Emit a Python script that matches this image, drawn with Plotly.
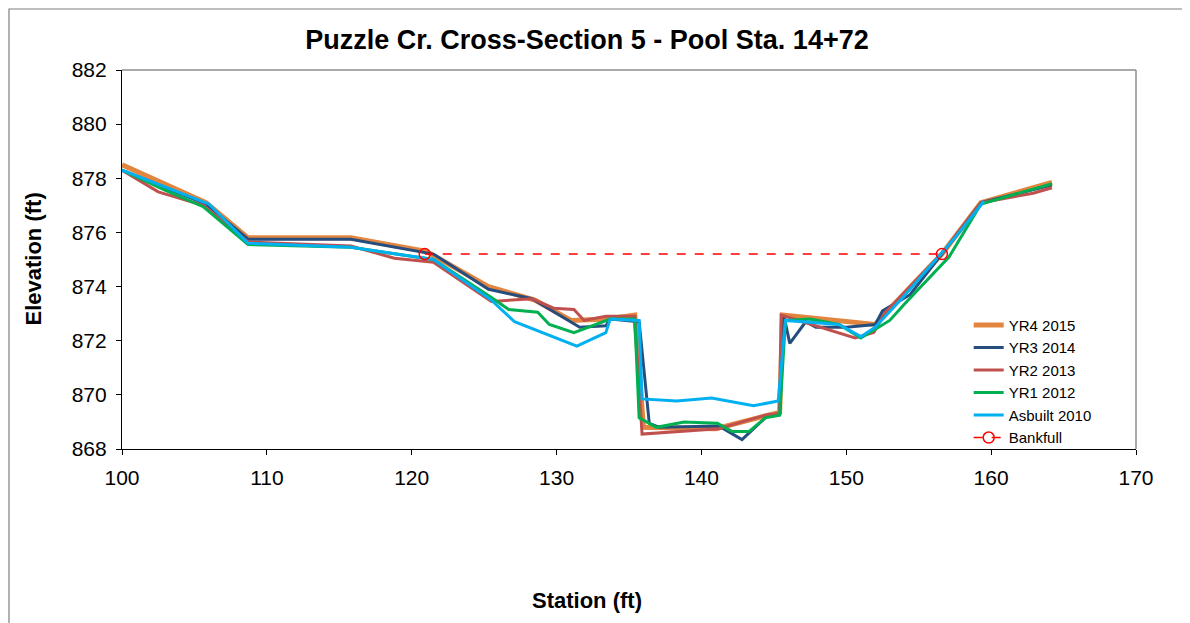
import plotly.graph_objects as go

# Survey data (station ft, elevation ft)
yr4_x = [100, 105.8, 108.7, 115.8, 121.0, 125.3, 128.5, 131.0, 133.5, 135.4, 136.0,
         141.0, 144.6, 145.4, 145.6, 152.0, 154.8, 156.6, 159.3, 164.2]
yr4_y = [878.5, 877.1, 875.8, 875.8, 875.3, 874.0, 873.5, 872.75, 872.8, 872.95, 868.8,
         868.75, 869.25, 869.35, 872.95, 872.6, 874.2, 875.2, 877.1, 877.85]

yr3_x = [100, 105.8, 108.7, 115.8, 121.5, 125.3, 128.3, 131.6, 133.4, 133.7, 135.7,
         136.4, 137.1, 141.2, 142.8, 144.6, 145.4, 145.7, 146.1, 147.2, 147.9, 150.0,
         152.0, 152.5, 154.4, 156.6, 159.3, 164.2]
yr3_y = [878.3, 877.05, 875.75, 875.75, 875.2, 873.9, 873.55, 872.5, 872.55, 872.8, 872.7,
         868.95, 868.8, 868.85, 868.35, 869.25, 869.3, 872.9, 871.9, 872.7, 872.5, 872.5,
         872.6, 873.1, 873.7, 875.2, 877.1, 877.75]

yr2_x = [100, 102.5, 105.6, 108.7, 115.8, 118.8, 121.5, 125.5, 128.3, 129.8, 131.2,
         131.9, 133.4, 135.4, 135.9, 141.2, 144.4, 145.4, 145.5, 147.9, 150.6, 151.9,
         152.7, 156.9, 159.3, 162.9, 164.2]
yr2_y = [878.3, 877.5, 877.0, 875.65, 875.5, 875.05, 874.9, 873.45, 873.55, 873.2, 873.15,
         872.75, 872.9, 872.9, 868.55, 868.75, 869.25, 869.3, 872.95, 872.55, 872.1, 872.3,
         873.05, 875.4, 877.1, 877.45, 877.65]

yr1_x = [100, 103.0, 105.6, 108.7, 115.8, 121.5, 125.5, 126.7, 128.7, 129.5, 131.2,
         133.7, 135.4, 135.7, 136.9, 138.8, 141.1, 142.1, 143.3, 144.4, 145.4, 145.8,
         147.5, 149.5, 151.0, 153.0, 154.1, 157.1, 159.3, 164.2]
yr1_y = [878.3, 877.55, 876.95, 875.55, 875.45, 875.0, 873.6, 873.15, 873.05, 872.6, 872.3,
         872.8, 872.8, 869.15, 868.8, 869.0, 868.95, 868.65, 868.65, 869.15, 869.25, 872.75,
         872.8, 872.6, 872.1, 872.75, 873.4, 875.1, 877.05, 877.8]

asb_x = [100, 106.0, 108.7, 115.8, 121.5, 125.5, 127.1, 131.4, 133.4, 133.7, 135.7,
         135.9, 138.3, 140.7, 143.6, 145.3, 145.8, 149.5, 151.0, 152.0, 153.9, 157.5, 159.5]
asb_y = [878.3, 877.05, 875.6, 875.45, 875.0, 873.5, 872.7, 871.8, 872.3, 872.8, 872.75,
         869.85, 869.77, 869.88, 869.6, 869.77, 872.75, 872.6, 872.15, 872.5, 873.6, 875.8, 877.15]

bkf_x = [120.9, 156.6]
bkf_y = [875.2, 875.2]

series = [
    ('YR4 2015', yr4_x, yr4_y, '#E2863F', 5),
    ('YR3 2014', yr3_x, yr3_y, '#254E7E', 3),
    ('YR2 2013', yr2_x, yr2_y, '#C0504D', 3),
    ('YR1 2012', yr1_x, yr1_y, '#00B050', 3),
    ('Asbuilt 2010', asb_x, asb_y, '#00B0F0', 3),
]

font = 'Arial, Liberation Sans, sans-serif'
W, H = 1182, 615          # page body adds 8px margin
L, R, T, B = 114, 54, 62, 174
pw, ph = W - L - R, H - T - B

fig = go.Figure()
for name, xs, ys, color, width in series:
    fig.add_trace(go.Scatter(x=xs, y=ys, name=name, mode='lines',
                             line=dict(color=color, width=width)))

fig.add_trace(go.Scatter(x=bkf_x, y=bkf_y, name='Bankfull', mode='lines+markers',
                         line=dict(color='#FF0000', width=1.5, dash='dash'),
                         marker=dict(symbol='circle-open', size=11, color='#FF0000',
                                     line=dict(width=1.5))))

fig.update_layout(
    width=W, height=H,
    margin=dict(l=L, r=R, t=T, b=B),
    paper_bgcolor='white', plot_bgcolor='white',
    font=dict(family=font, color='black'),
    title=dict(text='<b>Puzzle Cr. Cross-Section 5 - Pool Sta. 14+72</b>',
               font=dict(size=27), x=579 / W, xref='container', xanchor='center',
               y=1 - 32 / H, yanchor='middle'),
    showlegend=True,
    legend=dict(x=0.835, y=0.370, xanchor='left', yanchor='top',
                font=dict(size=15), bgcolor='rgba(0,0,0,0)', tracegroupgap=0),
)

fig.update_xaxes(range=[100, 170], dtick=10, showgrid=False, zeroline=False,
                 showline=True, linecolor='black', linewidth=1.2,
                 ticks='outside', ticklen=5, tickcolor='black',
                 tickfont=dict(size=21), ticklabelstandoff=5)
fig.update_yaxes(range=[868, 882], dtick=2, showgrid=False, zeroline=False,
                 showline=True, linecolor='black', linewidth=1.2,
                 ticks='outside', ticklen=5, tickcolor='black',
                 tickfont=dict(size=21), ticklabelstandoff=5)

# plot area border on top and right, outer chart frame
fig.add_shape(type='line', xref='paper', yref='paper', x0=0, x1=1, y0=1, y1=1,
              line=dict(color='#8C8C8C', width=1.5))
fig.add_shape(type='line', xref='paper', yref='paper', x0=1, x1=1, y0=0, y1=1,
              line=dict(color='#8C8C8C', width=1.5))
fig.add_shape(type='rect', xref='paper', yref='paper',
              x0=(1 - L) / pw, x1=(1175 - L) / pw,
              y0=-0.6, y1=(ph + T - 1) / ph,
              line=dict(color='#7F7F7F', width=1.2))

fig.add_annotation(text='<b>Station (ft)</b>', xref='paper', yref='paper',
                   x=(587 - 122) / pw, y=(449 - 600) / ph,
                   showarrow=False, font=dict(size=22), xanchor='center', yanchor='middle')
fig.add_annotation(text='<b>Elevation (ft)</b>', xref='paper', yref='paper',
                   x=(33 - 122) / pw, y=0.5, textangle=-90,
                   showarrow=False, font=dict(size=22), xanchor='center', yanchor='middle')

fig.write_html("out.html")
